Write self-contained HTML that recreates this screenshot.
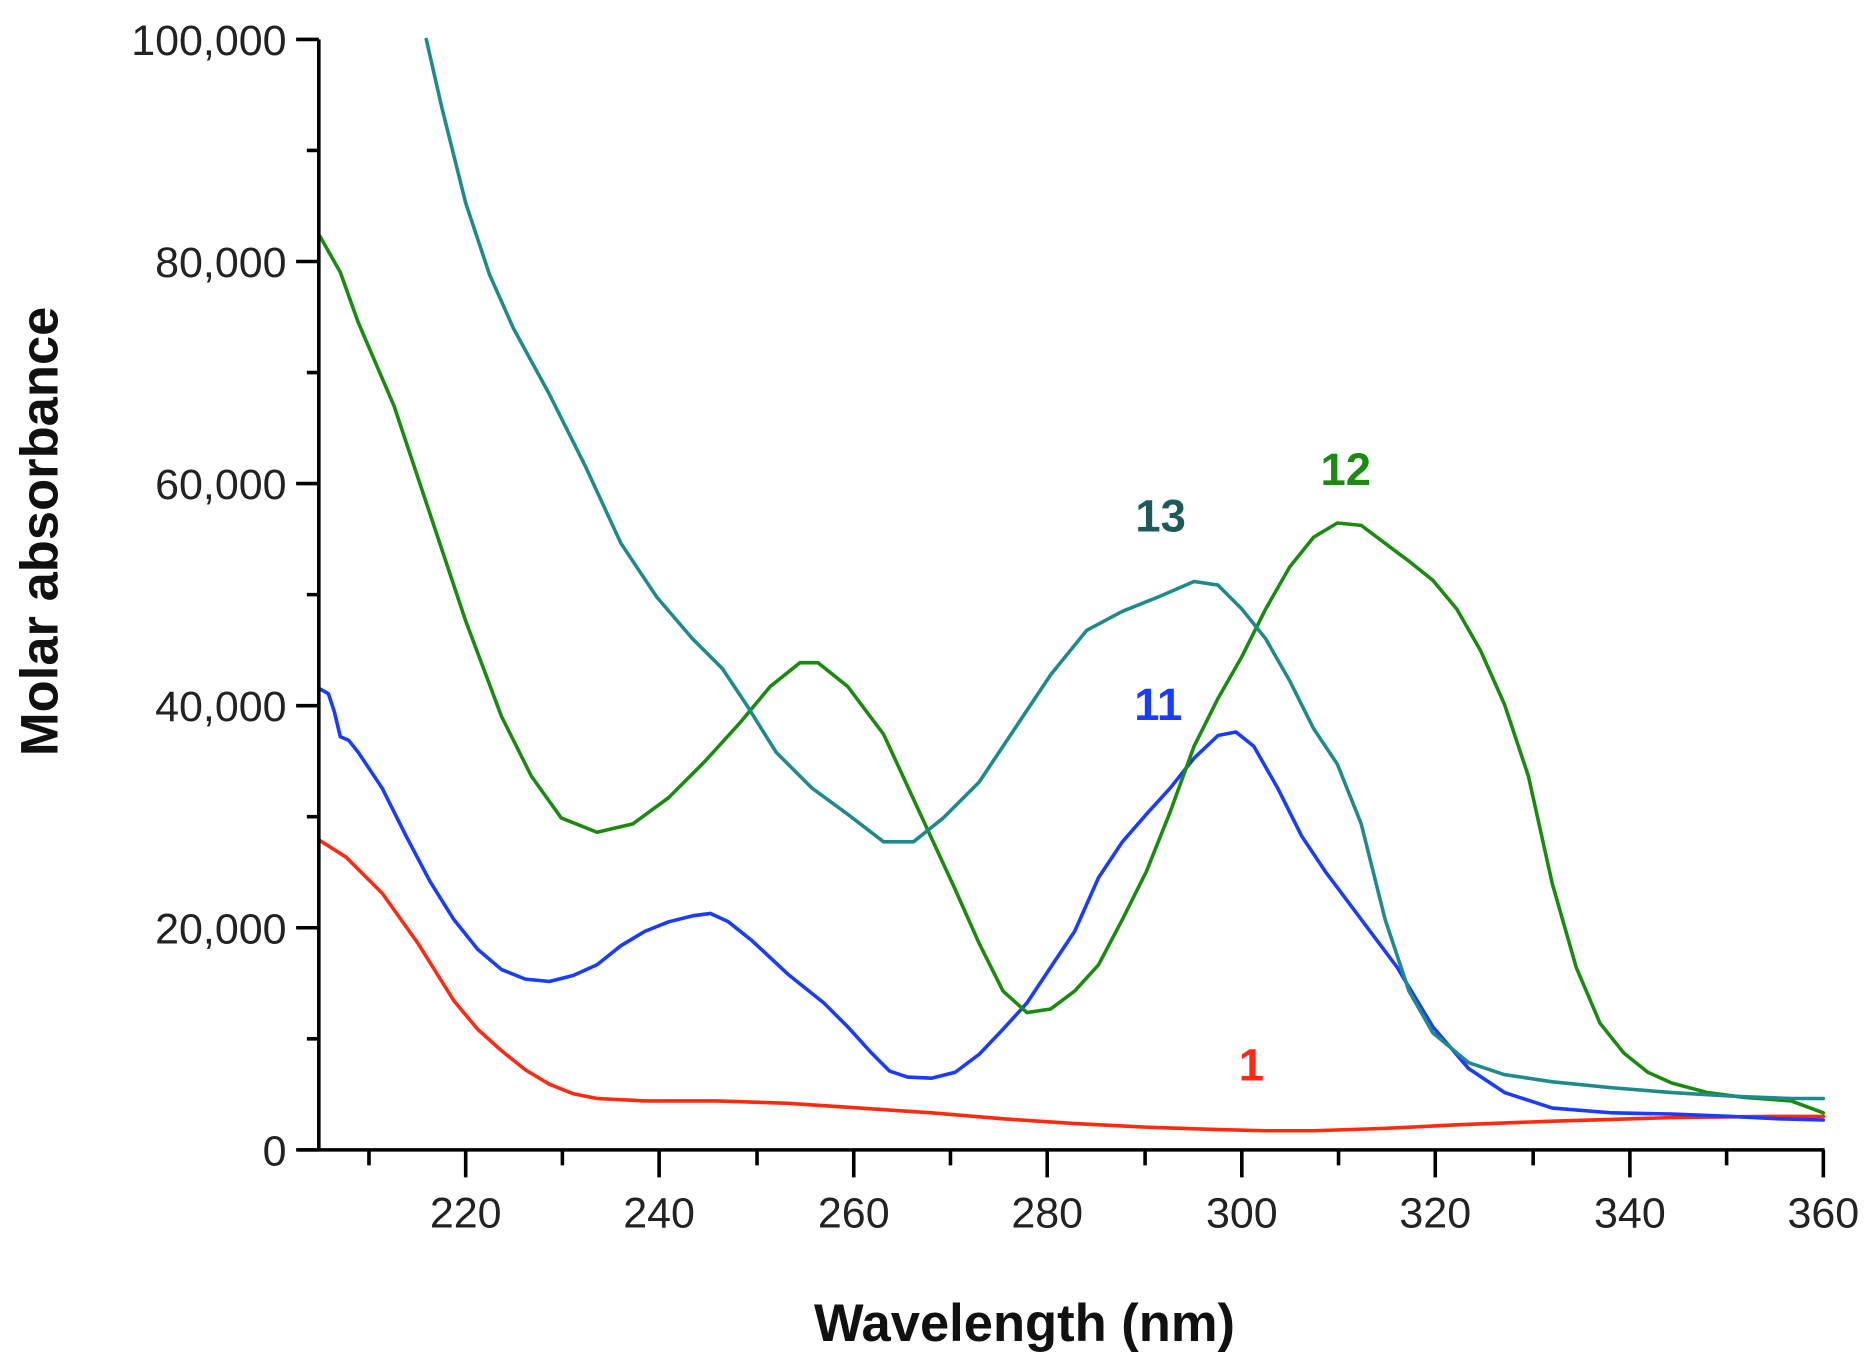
<!DOCTYPE html>
<html><head><meta charset="utf-8"><style>
html,body{margin:0;padding:0;background:#fff;}
svg{display:block;}
text{font-family:"Liberation Sans",Arial,sans-serif;}
</style></head><body>
<svg width="1873" height="1371" viewBox="0 0 1568.6 1148.2" preserveAspectRatio="none" xmlns="http://www.w3.org/2000/svg">
<rect width="1568.6" height="1148.2" fill="#fff"/>
<g fill="none" stroke-width="3" stroke-linejoin="round" stroke-linecap="round">
<polyline stroke="#ff2a10" points="268,704 290,718 320,748 350,790 380,838 400,862 420,880 440,896 460,908 480,916 500,920 540,922 600,922 660,924 720,928 780,932 840,937 900,941 960,944 1020,946 1060,947 1100,947 1160,945 1220,942 1300,939 1400,936 1480,935 1527,935"/>
<polyline stroke="#1a3cff" points="268,577 275,581 280,596 285,617 292,620 300,630 320,660 340,700 360,738 380,770 400,795 420,812 440,820 460,822 480,817 500,808 520,792 540,780 560,772 580,767 595,765 610,772 630,788 660,816 690,840 710,860 730,882 745,897 760,902 780,903 800,898 820,883 840,862 860,840 880,810 900,780 920,735 940,705 960,682 980,660 1000,635 1020,616 1035,613 1050,625 1070,660 1090,700 1110,730 1140,770 1170,810 1200,860 1230,895 1260,915 1300,928 1350,932 1400,933 1450,935 1490,937 1527,938"/>
<polyline stroke="#1a8a10" points="268,198 285,228 300,270 330,340 360,430 390,520 420,600 445,650 470,685 500,697 530,690 560,668 590,638 620,605 645,575 670,555 685,555 710,575 740,615 770,680 800,745 820,790 840,830 860,848 880,845 900,830 920,808 940,770 960,730 980,680 1000,625 1020,585 1040,550 1060,510 1080,475 1100,450 1120,438 1140,440 1160,455 1180,470 1200,486 1220,510 1240,545 1260,590 1280,650 1300,740 1320,810 1340,857 1360,882 1380,898 1400,907 1430,915 1460,919 1500,922 1527,932"/>
<polyline stroke="#1f8a8a" points="357,33 370,90 390,170 410,230 430,275 460,330 490,390 520,455 550,500 580,535 605,560 625,590 650,630 680,660 710,682 740,705 765,705 790,685 820,655 850,610 880,565 910,528 940,512 970,500 1000,487 1020,490 1040,510 1060,535 1080,570 1100,610 1120,640 1140,690 1160,770 1180,830 1200,865 1230,890 1260,900 1300,906 1350,911 1400,915 1450,918 1500,920 1527,920"/>
</g>
<g stroke="#000" stroke-width="3" fill="none">
<line x1="267" y1="33" x2="267" y2="964"/>
<line x1="250" y1="963" x2="1528" y2="963"/>
<path d="M248 33H267M248 219H267M248 405H267M248 591H267M248 777H267M248 963H267M257 126H267M257 312H267M257 498H267M257 684H267M257 870H267"/>
<path d="M390 963V986M552 963V986M715 963V986M877 963V986M1040 963V986M1202 963V986M1365 963V986M1527 963V986M309 963V976M471 963V976M634 963V976M796 963V976M959 963V976M1121 963V976M1284 963V976M1446 963V976"/>
</g>
<g font-size="36" fill="#222" text-anchor="end">
<text x="240" y="46">100,000</text>
<text x="240" y="232">80,000</text>
<text x="240" y="418">60,000</text>
<text x="240" y="604">40,000</text>
<text x="240" y="790">20,000</text>
<text x="240" y="976">0</text>
</g>
<g font-size="36" fill="#222" text-anchor="middle">
<text x="390" y="1028">220</text><text x="552" y="1028">240</text><text x="715" y="1028">260</text><text x="877" y="1028">280</text><text x="1040" y="1028">300</text><text x="1202" y="1028">320</text><text x="1365" y="1028">340</text><text x="1527" y="1028">360</text>
</g>
<text x="858" y="1123" font-size="44" font-weight="bold" text-anchor="middle" fill="#111">Wavelength (nm)</text>
<text transform="translate(48,445) rotate(-90)" font-size="44" font-weight="bold" text-anchor="middle" fill="#111">Molar absorbance</text>
<g font-size="38" font-weight="bold" text-anchor="middle">
<text x="1048" y="905" fill="#ff2a10">1</text>
<text x="970" y="603" fill="#1a3cff">11</text>
<text x="1127" y="406" fill="#1a8a10">12</text>
<text x="972" y="445" fill="#1e5a5a">13</text>
</g>
</svg>
</body></html>
